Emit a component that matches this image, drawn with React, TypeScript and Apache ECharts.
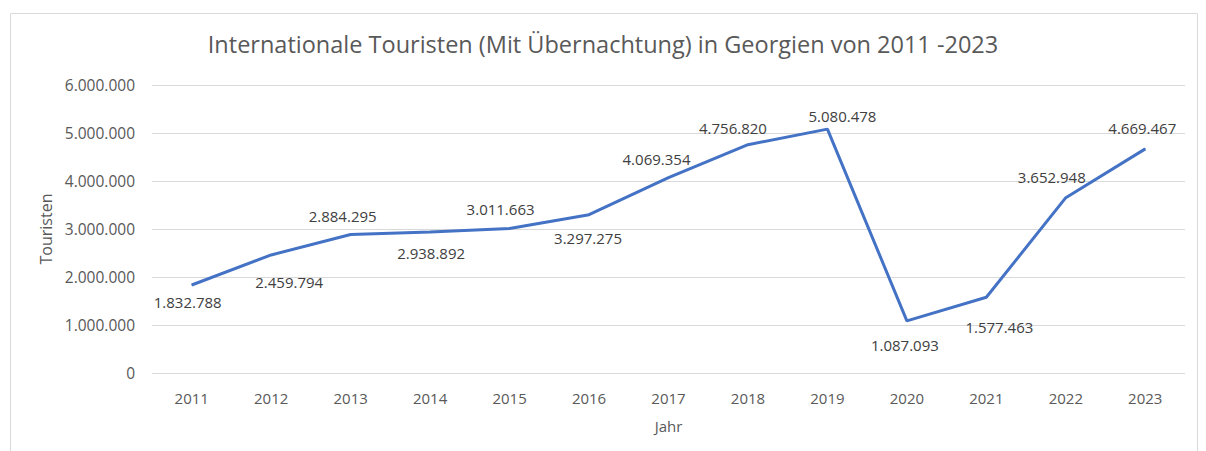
import React, { useEffect, useRef } from "react";
import * as echarts from "echarts";

const years = ["2011","2012","2013","2014","2015","2016","2017","2018","2019","2020","2021","2022","2023"];
const tourists = [1832788, 2459794, 2884295, 2938892, 3011663, 3297275, 4069354, 4756820, 5080478, 1087093, 1577463, 3652948, 4669467];
// label offsets (dx, dy) from each point, centre of label
const labelDx = [-4, 18, -8, 1, -9, -1, -12, -15, 15, -2, 13, -14, -3];
const labelDy = [17, 27, -19, 21, -19, 23, -19, -17, -13, 24, 30, -21, -21];

const titleText = "Internationale Touristen (Mit Übernachtung) in Georgien von 2011 -2023";
const font = "'Open Sans', sans-serif";

const fmt = (v: number) => String(Math.round(v)).replace(/\B(?=(\d{3})+(?!\d))/g, ".");

export default function App() {
  const ref = useRef<HTMLDivElement>(null);
  useEffect(() => {
    if (!ref.current) return;
    const chart = echarts.init(ref.current, undefined, { renderer: "svg" });
    chart.setOption({
      animation: false,
      backgroundColor: "#ffffff",
      textStyle: { fontFamily: font },
      title: {
        text: titleText,
        left: "center",
        top: 27,
        textStyle: { fontFamily: font, fontSize: 23.5, fontWeight: "normal", color: "#595959" },
      },
      graphic: [
        {
          type: "rect",
          shape: { x: 10.5, y: 13.5, width: 1187, height: 460 },
          style: { fill: "none", stroke: "#d9d9d9", lineWidth: 1 },
          silent: true,
        },
      ],
      grid: { left: 152, right: 21, top: 85, bottom: 78 },
      xAxis: {
        type: "category",
        data: years,
        boundaryGap: true,
        name: "Jahr",
        nameLocation: "middle",
        nameGap: 45,
        nameTextStyle: { fontFamily: font, fontSize: 15, color: "#595959" },
        axisLine: { show: false },
        axisTick: { show: false },
        axisLabel: { fontFamily: font, fontSize: 15, color: "#595959", margin: 17 },
      },
      yAxis: {
        type: "value",
        min: 0,
        max: 6000000,
        interval: 1000000,
        name: "Touristen",
        nameLocation: "middle",
        nameGap: 96,
        nameTextStyle: { fontFamily: font, fontSize: 16, color: "#595959" },
        axisLine: { show: false },
        axisTick: { show: false },
        splitLine: { lineStyle: { color: "#d9d9d9", width: 1 } },
        axisLabel: { fontFamily: font, fontSize: 15.5, color: "#595959", margin: 17, formatter: (v: number) => fmt(v) },
      },
      series: [
        {
          type: "line",
          data: tourists.map((v, i) => ({
            value: v,
            label: { offset: [labelDx[i], labelDy[i]] },
          })),
          symbol: "circle",
          symbolSize: 1,
          showSymbol: true,
          lineStyle: { color: "#4472C4", width: 3 },
          itemStyle: { color: "#4472C4" },
          label: {
            show: true,
            position: "inside",
            fontFamily: font,
            fontSize: 15,
            color: "#404040",
            formatter: (p: any) => fmt(p.value),
          },
        },
      ],
    });
    return () => chart.dispose();
  }, []);
  return <div ref={ref} style={{ position: "absolute", left: 0, top: 0, width: 1206, height: 451 }} />;
}
